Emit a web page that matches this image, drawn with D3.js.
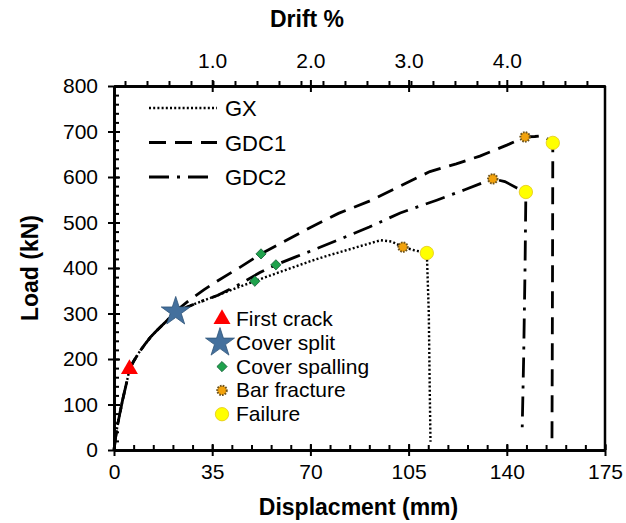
<!DOCTYPE html>
<html>
<head>
<meta charset="utf-8">
<script src="https://cdn.jsdelivr.net/npm/d3@7"></script>
<style>
  body { margin: 0; background: #fff; }
  text { font-family: "Liberation Sans", Arial, sans-serif; }
</style>
</head>
<body>
<script>
"use strict";

// ----------------------------------------
//  Data
// ----------------------------------------
const gxDisp   = [0, 0.5, 1, 1.5, 2, 3, 4, 5, 5.5, 7, 9, 11, 13, 15, 17, 19, 22, 26, 30, 37, 44, 50.2, 55, 60, 65, 70, 75, 80, 85, 90, 95, 99, 103, 107, 111.5, 112.2, 112.5, 112.8];
const gxLoad   = [0, 25, 45, 62, 78, 108, 135, 162, 178, 195, 215, 232, 248, 261, 273, 285, 302, 314, 324, 340, 357, 371, 382, 393, 404, 415, 425, 434, 443, 452, 461, 458, 446, 439, 433, 300, 150, 18];

const gdc1Disp = [0, 0.5, 1, 1.5, 2, 3, 4, 5, 5.5, 7, 9, 11, 13, 15, 17, 19, 22, 27, 32, 37, 45, 52.4, 60, 70, 80, 91, 102, 112.6, 122, 130.4, 140, 146.5, 150, 152.9, 154.5, 156.4, 156.3, 156.2, 156.1];
const gdc1Load = [0, 25, 45, 62, 78, 108, 135, 162, 178, 195, 215, 232, 248, 261, 273, 285, 305, 330, 352, 372, 402, 431, 456, 489, 520, 547, 580, 612, 629, 646, 670, 688, 689, 691, 684, 676, 400, 200, 20];

const gdc2Disp = [0, 0.5, 1, 1.5, 2, 3, 4, 5, 5.5, 7, 9, 11, 13, 15, 17, 19, 22, 26, 30, 37, 45, 52, 57.7, 65, 70, 80, 91, 102, 115, 125, 135, 139.3, 143.6, 146.8, 146.5, 146.0, 145.5];
const gdc2Load = [0, 25, 45, 62, 78, 108, 135, 162, 178, 195, 215, 232, 248, 261, 273, 285, 302, 314, 324, 340, 365, 390, 407, 425, 437, 462, 490, 521, 549, 572, 596, 590, 576, 567, 400, 200, 50];

// event markers
const firstCrackDisp    = [5.5];
const firstCrackLoad    = [178];
const coverSplitDisp    = [22];
const coverSplitLoad    = [304];
const coverSpallingDisp = [50.2, 52.4, 57.7];
const coverSpallingLoad = [371, 431, 407];
const barFractureDisp   = [103, 135, 146.5];
const barFractureLoad   = [446, 596, 688];
const failureDisp       = [111.5, 146.8, 156.4];
const failureLoad       = [433, 567, 675];

// tick labels
const xTicks = [0, 35, 70, 105, 140, 175];
const yTicks = [0, 100, 200, 300, 400, 500, 600, 700, 800];
const driftTicks = [1.0, 2.0, 3.0, 4.0];

const seriesNames = ["GX", "GDC1", "GDC2"];
const eventNames = ["First crack", "Cover split", "Cover spalling", "Bar fracture", "Failure"];

// ----------------------------------------
//  Sizing
// ----------------------------------------
const W = 626, H = 523;
const margin = {top: 86, right: 21, bottom: 73, left: 114};
const width = W - margin.left - margin.right;
const height = H - margin.top - margin.bottom;

const svg = d3.select("body").append("svg")
    .attr("width", W)
    .attr("height", H);

const g = svg.append("g")
    .attr("transform", "translate(" + margin.left + "," + margin.top + ")");

// ----------------------------------------
//  Scales
// ----------------------------------------
const x = d3.scaleLinear().domain([0, 175]).range([0, width]);
const y = d3.scaleLinear().domain([0, 800]).range([height, 0]);
const drift = d3.scaleLinear().domain([0, 5.0]).range([0, width]);

const xMinor = d3.range(0, 175.01, 7);
const yMinor = d3.range(0, 800.01, 20);
const driftMinor = d3.range(0.112, 5.0, 0.224);

// ----------------------------------------
//  Axes
// ----------------------------------------
function styleAxis(sel) {
    sel.select(".domain").attr("stroke", "#000").attr("stroke-width", 2.5);
    sel.selectAll(".tick line").attr("stroke", "#000").attr("stroke-width", 2);
    sel.selectAll(".tick text").attr("fill", "#000")
        .style("font-size", "21px")
        .style("font-family", "'Liberation Sans', Arial, sans-serif");
}

// bottom
g.append("g")
    .attr("transform", "translate(0," + height + ")")
    .call(d3.axisBottom(x).tickValues(xMinor).tickSize(-5).tickFormat("").tickSizeOuter(0))
    .call(styleAxis);
g.append("g")
    .attr("transform", "translate(0," + height + ")")
    .call(d3.axisBottom(x).tickValues(xTicks).tickSize(-6).tickFormat("").tickSizeOuter(0))
    .call(styleAxis);
g.append("g")
    .attr("transform", "translate(0," + height + ")")
    .call(d3.axisBottom(x).tickValues(xTicks).tickSize(6).tickPadding(8).tickSizeOuter(0))
    .call(styleAxis);

// left
g.append("g")
    .call(d3.axisLeft(y).tickValues(yMinor).tickSize(-5).tickFormat("").tickSizeOuter(0))
    .call(styleAxis);
g.append("g")
    .call(d3.axisLeft(y).tickValues(yTicks).tickSize(-6).tickFormat("").tickSizeOuter(0))
    .call(styleAxis);
g.append("g")
    .call(d3.axisLeft(y).tickValues(yTicks).tickSize(6).tickPadding(10).tickSizeOuter(0))
    .call(styleAxis);

// top (drift)
g.append("g")
    .call(d3.axisTop(drift).tickValues(driftMinor).tickSize(5).tickFormat("").tickSizeOuter(0))
    .call(styleAxis);
g.append("g")
    .call(d3.axisTop(drift).tickValues(driftTicks).tickSize(-6).tickFormat("").tickSizeOuter(0))
    .call(styleAxis);
g.append("g")
    .call(d3.axisTop(drift).tickValues(driftTicks).tickSize(6).tickPadding(12)
        .tickFormat(d3.format(".1f")).tickSizeOuter(0))
    .call(styleAxis);

// right border
g.append("line")
    .attr("x1", width).attr("x2", width)
    .attr("y1", 0).attr("y2", height)
    .attr("stroke", "#000").attr("stroke-width", 2.5);

// axis titles
svg.append("text")
    .attr("x", margin.left + width / 2 - 1)
    .attr("y", H - 8)
    .attr("text-anchor", "middle")
    .style("font-size", "23px").style("font-weight", "bold")
    .text("Displacment (mm)");

svg.append("text")
    .attr("x", 307)
    .attr("y", 27)
    .attr("text-anchor", "middle")
    .style("font-size", "23px").style("font-weight", "bold")
    .text("Drift %");

svg.append("text")
    .attr("transform", "translate(38," + (margin.top + height / 2) + ") rotate(-90)")
    .attr("text-anchor", "middle")
    .style("font-size", "23px").style("font-weight", "bold")
    .text("Load (kN)");

// ----------------------------------------
//  Curves
// ----------------------------------------
const dashes = ["2,2.2", "17,9", "20,8,3,8"];
const curves = [
    d3.zip(gxDisp, gxLoad),
    d3.zip(gdc1Disp, gdc1Load),
    d3.zip(gdc2Disp, gdc2Load)
];

const line = d3.line()
    .x(function(d) { return x(d[0]); })
    .y(function(d) { return y(d[1]); });

g.selectAll(".curve")
    .data(curves)
    .enter()
    .append("path")
    .attr("class", "curve")
    .attr("d", line)
    .attr("fill", "none")
    .attr("stroke", "#000")
    .attr("stroke-width", function(d, i) { return i === 0 ? 2.4 : 2.8; })
    .attr("stroke-dasharray", function(d, i) { return dashes[i]; });

// line legend
const lg = svg.append("g");
seriesNames.forEach(function(name, i) {
    const ly = 108 + i * 34.5;
    lg.append("line")
        .attr("x1", 149).attr("x2", i === 2 ? 211 : 217)
        .attr("y1", ly).attr("y2", ly)
        .attr("stroke", "#000")
        .attr("stroke-width", i === 0 ? 2.4 : 2.8)
        .attr("stroke-dasharray", dashes[i]);
    lg.append("text")
        .attr("x", 225).attr("y", ly + 8)
        .style("font-size", "22px")
        .text(name);
});

// ----------------------------------------
//  Event markers
// ----------------------------------------
function drawTriangle(sel) {
    sel.attr("d", d3.symbol().type(d3.symbolTriangle).size(125))
        .attr("fill", "#ff0000");
}
function drawStar(sel) {
    sel.attr("d", d3.symbol().type(d3.symbolStar).size(260))
        .attr("fill", "#44709d").attr("stroke", "#2f5479").attr("stroke-width", 0.8);
}
function drawDiamond(sel) {
    sel.attr("d", d3.symbol().type(d3.symbolSquare).size(52))
        .attr("fill", "#1fa24c").attr("stroke", "#17613a").attr("stroke-width", 0.8);
}
function drawBar(sel) {
    sel.attr("d", d3.symbol().type(d3.symbolCircle).size(70))
        .attr("fill", "#f2a20c").attr("stroke", "#6b5320").attr("stroke-width", 2)
        .attr("stroke-dasharray", "1.6,1.2");
}
function drawFailure(sel) {
    sel.attr("d", d3.symbol().type(d3.symbolCircle).size(140))
        .attr("fill", "#ffff00").attr("stroke", "#e3c61a").attr("stroke-width", 0.8);
}

const events = [
    {xs: firstCrackDisp,    ys: firstCrackLoad,    draw: drawTriangle, rot: 0},
    {xs: coverSplitDisp,    ys: coverSplitLoad,    draw: drawStar,     rot: 0},
    {xs: coverSpallingDisp, ys: coverSpallingLoad, draw: drawDiamond,  rot: 45},
    {xs: barFractureDisp,   ys: barFractureLoad,   draw: drawBar,      rot: 0},
    {xs: failureDisp,       ys: failureLoad,       draw: drawFailure,  rot: 0}
];

events.forEach(function(ev) {
    g.selectAll(null)
        .data(d3.zip(ev.xs, ev.ys))
        .enter()
        .append("path")
        .attr("transform", function(d) {
            return "translate(" + x(d[0]) + "," + y(d[1]) + ") rotate(" + ev.rot + ")";
        })
        .call(ev.draw);
});

// event legend
const eg = svg.append("g");
eventNames.forEach(function(name, i) {
    const ey = 319 + i * 23.8;
    eg.append("path")
        .attr("transform", "translate(" + (i === 1 ? 220 : 222) + "," + ey + ") rotate(" + events[i].rot + ")")
        .call(events[i].draw);
    eg.append("text")
        .attr("x", 236).attr("y", ey + 7)
        .style("font-size", "21px")
        .text(name);
});

console.log("End of Program");
</script>
</body>
</html>
